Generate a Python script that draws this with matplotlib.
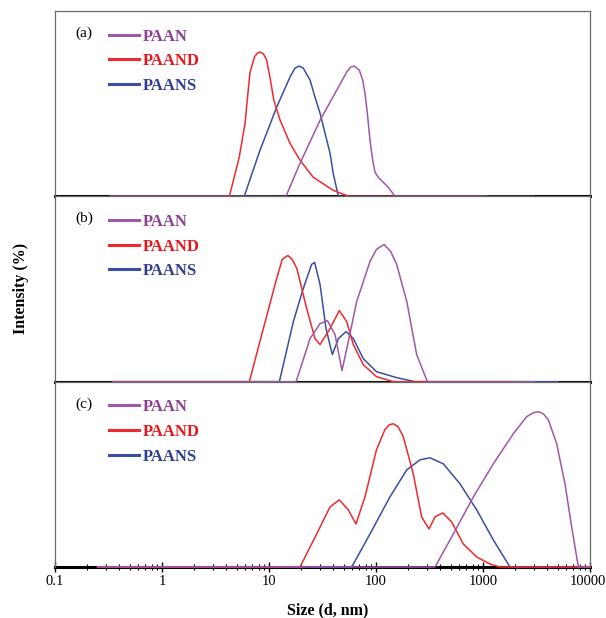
import matplotlib
matplotlib.use("Agg")
import matplotlib.pyplot as plt
from matplotlib.transforms import ScaledTranslation
from matplotlib.ticker import LogLocator, NullFormatter, FixedFormatter, FixedLocator

# ---------------- data ----------------
series_names = ["PAAN", "PAAND", "PAANS"]
panel_labels = ["(a)", "(b)", "(c)"]
xtick_values = [0.1, 1, 10, 100, 1000, 10000]
xtick_labels = ["0.1", "1", "10", "100", "1000", "10000"]

# panel (a)
a_paan_x = [0.33, 14.4, 19.5, 30, 43, 53.2, 58, 62.7, 69.8, 75.1, 78.9, 83, 87.9, 93.1, 97.9, 105, 117, 130, 151, 1100]
a_paan_y = [0, 0, 3.3, 7.6, 10.6, 12.4, 12.9, 13.0, 12.6, 11.6, 10.3, 8.3, 5.6, 3.6, 2.4, 1.9, 1.4, 0.9, 0, 0]
a_paand_x = [0.33, 4.26, 5.27, 5.97, 6.63, 7.3, 7.8, 8.24, 8.9, 9.5, 10.2, 11.1, 12.7, 15.7, 19.5, 25.9, 39.8, 56, 1000]
a_paand_y = [0, 0, 3.9, 7.3, 12.3, 13.9, 14.3, 14.4, 14.2, 13.6, 11.9, 9.6, 7.6, 5.3, 3.6, 1.9, 0.6, 0, 0]
a_paans_x = [0.33, 5.87, 8.24, 11.8, 15.7, 17.5, 19.1, 20.9, 24.2, 26.9, 30, 33.4, 37.2, 39.8, 44.5, 3000]
a_paans_y = [0, 0, 4.6, 8.9, 11.9, 12.8, 13.0, 12.8, 11.6, 9.9, 8.3, 6.3, 4.3, 2.3, 0, 0]

# panel (b)
b_paan_x = [0.35, 17.9, 24.2, 30, 35.1, 41.4, 48.1, 55.1, 66, 87.9, 101, 119, 137, 156, 194, 240, 302, 3000]
b_paan_y = [0, 0, 4.3, 5.8, 6.1, 4.7, 1.1, 4.0, 8.0, 12.0, 13.2, 13.7, 13.0, 11.7, 8.0, 2.7, 0, 0]
b_paand_x = [0.35, 6.55, 8.85, 11.8, 13.3, 15, 16.5, 18.2, 22.5, 26.9, 30, 37.2, 45.4, 53.2, 61.4, 76, 101, 145, 2000]
b_paand_y = [0, 0, 5.3, 10.3, 12.2, 12.6, 12.2, 11.3, 7.3, 4.3, 3.7, 5.3, 7.1, 6.0, 3.7, 1.7, 0.5, 0, 0]
b_paans_x = [0.35, 12.5, 16.9, 20.9, 25, 26.7, 30, 34.1, 39.1, 44.5, 52.5, 61.4, 76, 101, 156, 231, 5000]
b_paans_y = [0, 0, 6.0, 9.3, 11.7, 11.9, 9.7, 5.3, 2.7, 4.3, 5.0, 4.3, 2.3, 1.0, 0.4, 0, 0]

# panel (c)
c_paan_x = [0.25, 356, 528, 813, 1249, 1919, 2558, 2951, 3286, 3664, 4074, 4884, 5838, 6742, 7780, 10000]
c_paan_y = [0, 0, 3.3, 7.0, 10.3, 13.3, 15.0, 15.4, 15.5, 15.3, 14.7, 12.3, 8.3, 4.0, 0, 0]
c_paand_x = [0.25, 19.5, 27.9, 37.2, 45.4, 55.1, 65, 78.9, 101, 121, 133, 145, 161, 180, 223, 267, 313, 356, 420, 509, 654, 873, 1162, 1442, 10000]
c_paand_y = [0, 0, 3.3, 6.0, 6.7, 5.7, 4.3, 7.0, 11.7, 13.7, 14.2, 14.3, 14.0, 13.0, 9.3, 5.0, 3.8, 5.0, 5.4, 4.5, 2.3, 1.0, 0.3, 0, 0]
c_paans_x = [0.25, 59.3, 87.9, 135, 194, 258, 320, 426, 610, 873, 1249, 1787, 10000]
c_paans_y = [0, 0, 3.3, 7.0, 9.7, 10.7, 10.9, 10.3, 8.3, 5.7, 2.7, 0, 0]

panels = [
    {"PAAN": (a_paan_x, a_paan_y), "PAAND": (a_paand_x, a_paand_y), "PAANS": (a_paans_x, a_paans_y)},
    {"PAAN": (b_paan_x, b_paan_y), "PAAND": (b_paand_x, b_paand_y), "PAANS": (b_paans_x, b_paans_y)},
    {"PAAN": (c_paan_x, c_paan_y), "PAAND": (c_paand_x, c_paand_y), "PAANS": (c_paans_x, c_paans_y)},
]

# ---------------- style ----------------
colors = {"PAAN": "#9E58A6", "PAAND": "#EE2A2E", "PAANS": "#3B4EA3"}
text_colors = {"PAAN": "#8E3F92", "PAAND": "#E8161C", "PAANS": "#2E3F92"}
draw_order = ["PAANS", "PAAND", "PAAN"]
serif = ["Liberation Serif", "DejaVu Serif"]

fig = plt.figure(figsize=(6.06, 6.18), dpi=100)
gs = fig.add_gridspec(3, 1, left=55 / 606, right=590 / 606,
                      top=1 - 11 / 618, bottom=1 - 567 / 618, hspace=0)

axes = []
for i, data in enumerate(panels):
    ax = fig.add_subplot(gs[i], sharex=axes[0] if axes else None)
    axes.append(ax)
    handles = {}
    for name in draw_order:
        xs, ys = data[name]
        ln, = ax.plot(xs, ys, color=colors[name], lw=1.1, zorder=3,
                      solid_joinstyle="round", clip_on=False)
        handles[name] = ln
    ax.set_xscale("log")
    ax.set_xlim(0.1, 10000)
    ax.set_ylim(0, 18.5)
    ax.set_yticks([])
    for s in ["left", "right", "top"]:
        ax.spines[s].set_color("#6a6a6a")
        ax.spines[s].set_linewidth(0.9)
    ax.spines["bottom"].set_color("black")
    ax.spines["bottom"].set_linewidth(2.2)
    ax.spines["bottom"].set_zorder(2)
    if i < 2:
        ax.tick_params(axis="x", which="both", bottom=False, labelbottom=False)

    ax.text(0.038, 0.88, panel_labels[i], transform=ax.transAxes,
            fontsize=11, family=serif, color="black", va="center", ha="left")

    leg = ax.legend([handles[n] for n in series_names], series_names,
                    loc="upper left", bbox_to_anchor=(0.1, 0.905),
                    frameon=False, borderpad=0, borderaxespad=0,
                    handlelength=1.8, handletextpad=0.25, labelspacing=0.52,
                    prop={"family": serif, "weight": "bold", "size": 12})
    for t, n in zip(leg.get_texts(), series_names):
        t.set_color(text_colors[n])
    for l in leg.get_lines():
        l.set_linewidth(2.2)

ax = axes[-1]
ax.xaxis.set_major_locator(FixedLocator(xtick_values))
ax.xaxis.set_major_formatter(FixedFormatter(xtick_labels))
ax.xaxis.set_minor_locator(LogLocator(base=10, subs=range(2, 10)))
ax.xaxis.set_minor_formatter(NullFormatter())
ax.tick_params(axis="x", which="major", direction="inout", length=7, width=1.0,
               color="black", labelsize=10.5, pad=2)
ax.tick_params(axis="x", which="minor", direction="inout", length=4, width=0.8,
               color="black")
fig.canvas.draw()
labels = ax.get_xticklabels()
for lab in labels:
    lab.set_family(serif)
# keep the last label inside the canvas
labels[-1].set_horizontalalignment("right")
labels[-1].set_transform(labels[-1].get_transform()
                         + ScaledTranslation(16 / 100, 0, fig.dpi_scale_trans))

fig.text(328 / 606, 1 - 610 / 618, "Size (d, nm)", ha="center", va="center",
         fontsize=11.5, fontweight="bold", family=serif)
fig.text(21 / 606, 1 - 288 / 618, "Intensity (%)", ha="center", va="center",
         rotation=90, fontsize=11.5, fontweight="bold", family=serif)

fig.savefig("out.png", dpi=100)
